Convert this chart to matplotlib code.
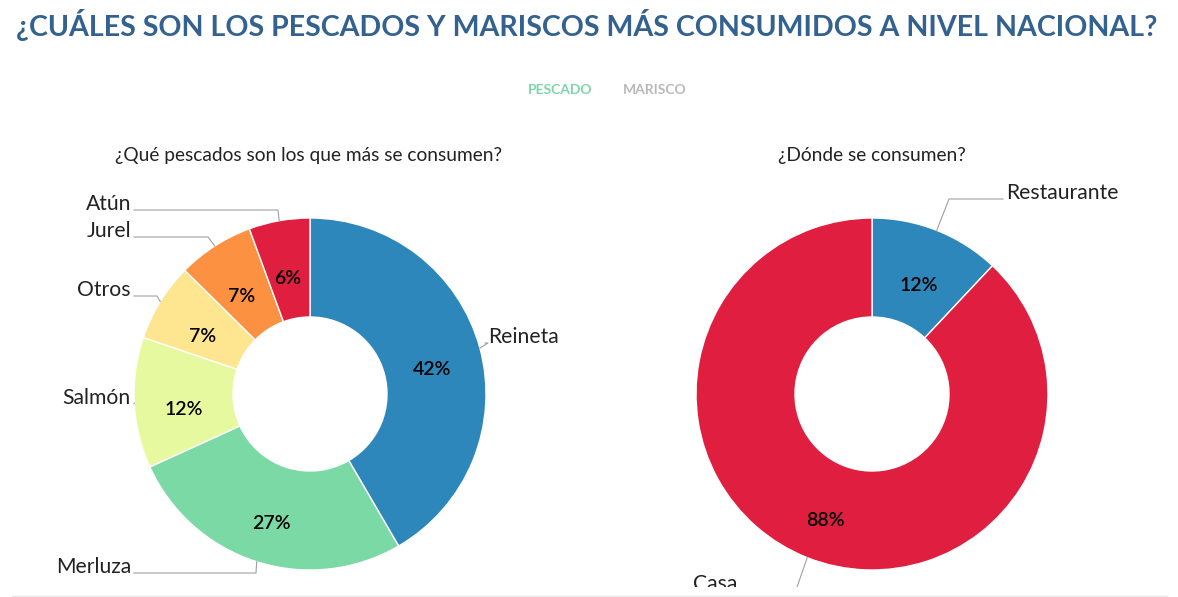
import numpy as np
import matplotlib.pyplot as plt
from matplotlib.transforms import Bbox, TransformedBbox

plt.rcParams['font.family'] = ['Lato', 'DejaVu Sans']

# ¿Qué pescados son los que más se consumen?
pescados = ['Reineta', 'Merluza', 'Salmón', 'Otros', 'Jurel', 'Atún']
pescados_pct = [41.6, 26.6, 12.0, 7.2, 7.0, 5.6]
pescados_colores = ['#2e87bb', '#7bd9a5', '#e6f99e', '#fee590', '#fd9142', '#e01f40']

# ¿Dónde se consumen?
lugares = ['Restaurante', 'Casa']
lugares_pct = [12.0, 88.0]
lugares_colores = ['#2e87bb', '#e01f40']

W, H = 1178, 597
R, R_IN = 176, 77


def py(y):
    # pixel y (from top) -> data y
    return H - y


fig = plt.figure(figsize=(W / 100, H / 100), dpi=100)
ax = fig.add_axes([0, 0, 1, 1])
clipbox = TransformedBbox(Bbox([[0, py(587)], [W, H]]), ax.transData)


def donut(values, colors, labels, cx, cy, layout):
    wedges, _, pcts = ax.pie(values, colors=colors, startangle=90, counterclock=False,
                             radius=R, center=(cx, py(cy)), autopct='%.0f%%',
                             pctdistance=0.72,
                             wedgeprops=dict(width=R - R_IN, edgecolor='white', linewidth=1),
                             textprops=dict(fontsize=14, fontweight='semibold', color='black'))
    for p in pcts:
        x, y = p.get_position()
        p.set_position((x, y - 9))
    for w, lab, (tx, ty, bx) in zip(wedges, labels, layout):
        ang = np.deg2rad((w.theta1 + w.theta2) / 2)
        ex, ey = cx + R * np.cos(ang), py(cy) + R * np.sin(ang)
        left = tx < cx
        end = tx + 3 if left else tx - 3
        ln, = ax.plot([ex, bx, end], [ey, py(ty), py(ty)], color='#a0a0a0', lw=0.8)
        ln.set_clip_path(None)
        ln.set_clip_box(clipbox)
        t = ax.text(tx, py(ty), lab, ha='right' if left else 'left', va='baseline',
                    fontsize=15.2, color='#222222')
        t.set_clip_path(None)
        t.set_clip_box(clipbox)
        t.set_clip_on(True)


donut(pescados_pct, pescados_colores, pescados, 310, 394,
      [(488, 343, 488), (131, 573, 256), (131, 404, 134),
       (131, 296, 157), (131, 237, 208), (131, 210, 278)])
donut(lugares_pct, lugares_colores, lugares, 872, 394,
      [(1006, 199, 949), (737, 590, 796)])

ax.set_xlim(0, W)
ax.set_ylim(0, H)
ax.set_aspect('equal')
ax.axis('off')

fig.text(587 / W, 1 - 25 / H, '¿CUÁLES SON LOS PESCADOS Y MARISCOS MÁS CONSUMIDOS A NIVEL NACIONAL?',
         ha='center', va='center', fontsize=20.6, fontweight='bold', color='#336190')
fig.text(560 / W, 1 - 90 / H, 'PESCADO', ha='center', va='center', fontsize=10,
         fontweight='bold', color='#7bd6aa')
fig.text(655 / W, 1 - 90 / H, 'MARISCO', ha='center', va='center', fontsize=10,
         fontweight='bold', color='#b8b8b8')
fig.text(309 / W, 1 - 155 / H, '¿Qué pescados son los que más se consumen?', ha='center',
         va='center', fontsize=13.8, color='#222222')
fig.text(872 / W, 1 - 155 / H, '¿Dónde se consumen?', ha='center', va='center',
         fontsize=13.8, color='#222222')
ax.plot([12, 1167], [py(596), py(596)], color='#e6e6e6', lw=1, clip_on=False)

fig.savefig('out.png', dpi=100)
